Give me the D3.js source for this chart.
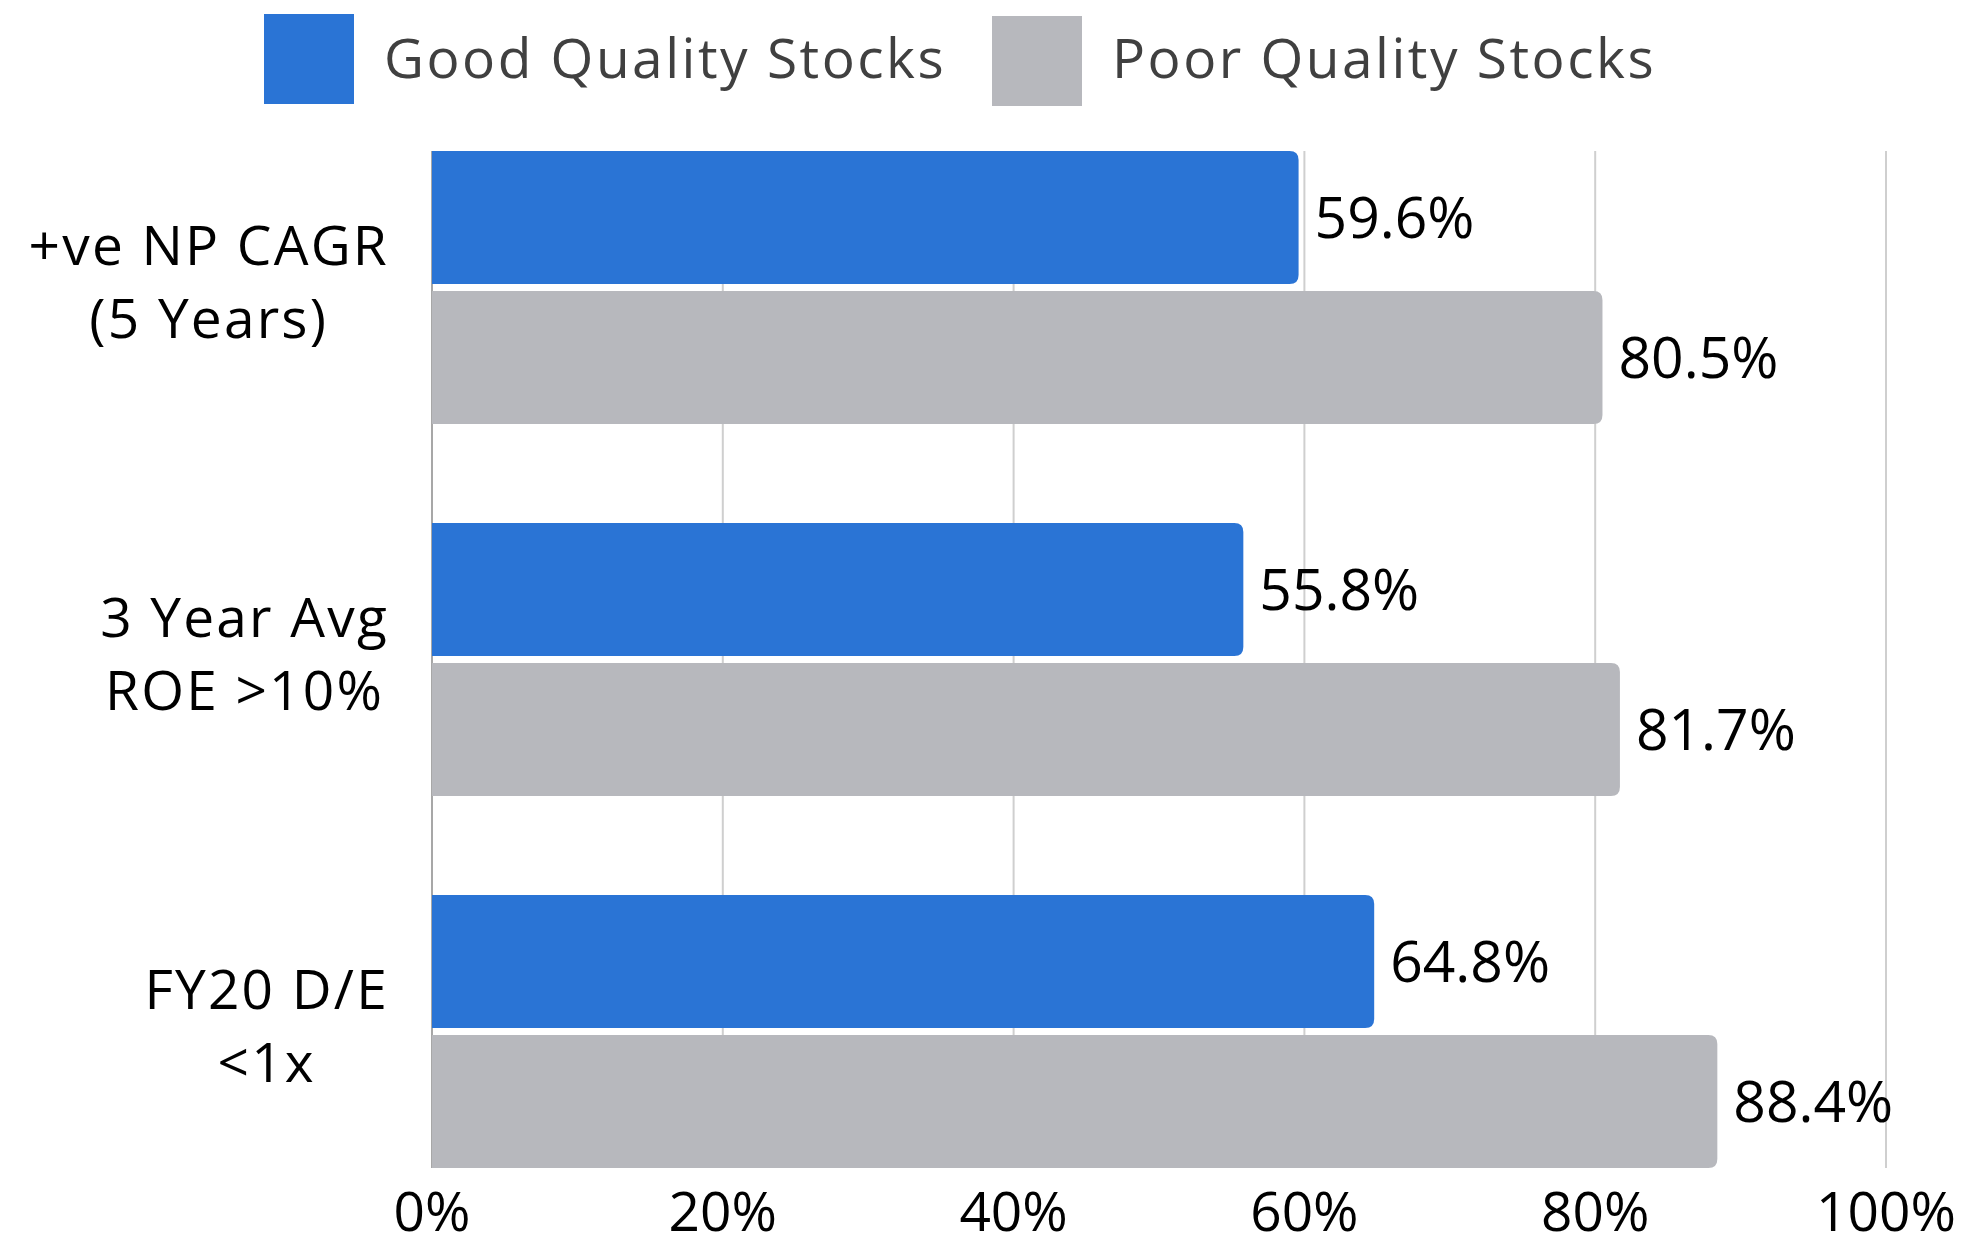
<!DOCTYPE html>
<html><head><meta charset="utf-8">
<script src="https://cdn.jsdelivr.net/npm/d3@7"></script>
<style>
html,body{margin:0;padding:0;background:#fff;}
svg{display:block;font-family:"Open Sans",sans-serif;}
</style></head>
<body>
<svg id="chart" width="1986" height="1247"></svg>
<script>
const categories = [["+ve NP CAGR","(5 Years)"],["3 Year Avg","ROE >10%"],["FY20 D/E","<1x"]];
const seriesNames = ["Good Quality Stocks","Poor Quality Stocks"];
const goodValues = [59.6, 55.8, 64.8];
const poorValues = [80.5, 81.7, 88.4];
const tickValues = [0,20,40,60,80,100];
const tickLabels = ["0%","20%","40%","60%","80%","100%"];
const colors = ["#2a74d5","#b7b8bd"];

const svg = d3.select("#chart");
const x = d3.scaleLinear().domain([0,100]).range([432,1886]);
const y = d3.scaleBand().domain(d3.range(categories.length)).range([151,1168]).paddingInner(0.266).paddingOuter(0);
const gap = 7;
const barH = (y.bandwidth()-gap)/2;

// gridlines
svg.append("g").selectAll("line").data(tickValues.filter(d=>d>0)).join("line")
  .attr("x1",d=>x(d)).attr("x2",d=>x(d)).attr("y1",151).attr("y2",1168)
  .attr("stroke","#cfcfcf").attr("stroke-width",2);
svg.append("line").attr("x1",x(0)).attr("x2",x(0)).attr("y1",151).attr("y2",1168)
  .attr("stroke","#8a8a8a").attr("stroke-width",1.5);

function barPath(x0,x1,y0,h,r){
  r=Math.min(r,(x1-x0));
  return `M${x0},${y0}H${x1-r}Q${x1},${y0} ${x1},${y0+r}V${y0+h-r}Q${x1},${y0+h} ${x1-r},${y0+h}H${x0}Z`;
}

const rows = [];
categories.forEach((c,i)=>{
  rows.push({i,s:0,v:goodValues[i]});
  rows.push({i,s:1,v:poorValues[i]});
});
const gBars = svg.append("g");
gBars.selectAll("path").data(rows).join("path")
  .attr("d",d=>barPath(x(0),x(d.v),y(d.i)+d.s*(barH+gap),barH,9))
  .attr("fill",d=>colors[d.s]);
gBars.selectAll("text").data(rows).join("text")
  .attr("x",d=>x(d.v)+16)
  .attr("y",d=>y(d.i)+d.s*(barH+gap)+barH/2)
  .attr("dy","0.36em")
  .attr("font-size",57).attr("fill","#000")
  .text(d=>d.v.toFixed(1)+"%");

// x tick labels
svg.append("g").selectAll("text").data(tickValues).join("text")
  .attr("x",d=>x(d)).attr("y",1231).attr("text-anchor","middle")
  .attr("font-size",55).attr("fill","#000")
  .text((d,i)=>tickLabels[i]);

// category labels: block right-aligned, lines centered within
const catG = svg.append("g");
categories.forEach((lines,i)=>{
  const cy = y(i)+y.bandwidth()/2;
  const texts = lines.map((t,j)=>catG.append("text")
    .attr("font-size",55).attr("fill","#000")
    .attr("letter-spacing",2.2)
    .attr("text-anchor","middle")
    .attr("y",cy + (j-0.5)*73 + 14)
    .text(t));
  const maxW = d3.max(texts,t=>t.node().getComputedTextLength());
  const cx = 389 - maxW/2;
  texts.forEach(t=>t.attr("x",cx));
});

// legend
const legX = [264,992];
const leg = svg.append("g").selectAll("g").data(seriesNames).join("g");
leg.append("rect").attr("x",(d,i)=>legX[i]).attr("y",(d,i)=>i?16:14).attr("width",90).attr("height",90)
  .attr("fill",(d,i)=>colors[i]);
leg.append("text").attr("x",(d,i)=>legX[i]+120).attr("y",78)
  .attr("font-size",55).attr("letter-spacing",2.5).attr("fill","#404040").text(d=>d);
</script>
</body></html>
